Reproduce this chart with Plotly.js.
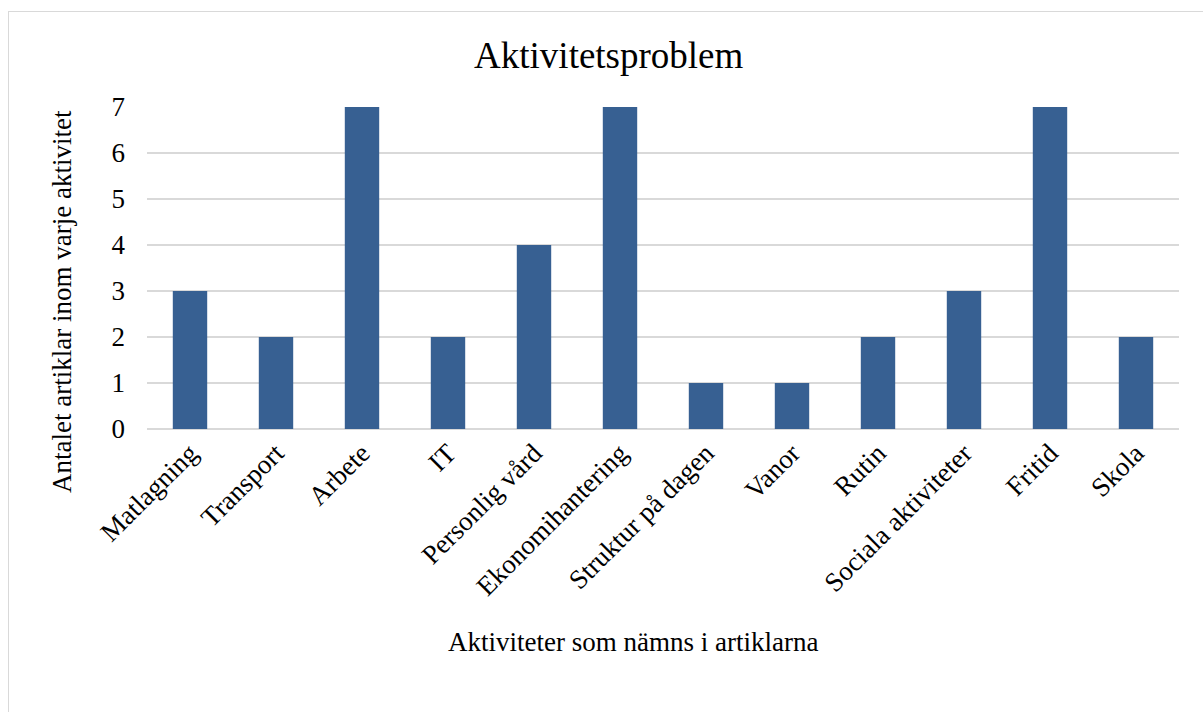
<!DOCTYPE html>
<html><head><meta charset="utf-8">
<script src="https://cdn.plot.ly/plotly-3.0.1.min.js"></script>
<style>
html,body{margin:0;padding:0;background:#fff;overflow:hidden;}
#frame{position:absolute;left:8px;top:11px;width:1300px;height:800px;border:1.5px solid #d9d9d9;box-sizing:border-box;}
#chart{position:absolute;left:0;top:0;width:1203px;height:712px;}
</style></head>
<body>
<div id="frame"></div>
<div id="chart"></div>
<script>
const categories = ["Matlagning","Transport","Arbete","IT","Personlig vård","Ekonomihantering","Struktur på dagen","Vanor","Rutin","Sociala aktiviteter","Fritid","Skola"];
const values = [3,2,7,2,4,7,1,1,2,3,7,2];
const yTicks = [0,1,2,3,4,5,6,7];
const font = "'Liberation Serif','Times New Roman',serif";

Plotly.newPlot('chart', [{
  type:'bar', x:categories, y:values,
  marker:{color:'#376092'},
  hoverinfo:'x+y'
}], {
  width:1203, height:712,
  paper_bgcolor:'rgba(0,0,0,0)', plot_bgcolor:'rgba(0,0,0,0)',
  margin:{l:147,r:24,t:107,b:283},
  bargap:0.6,
  showlegend:false,
  font:{family:font,color:'#000'},
  title:{text:'Aktivitetsproblem', font:{family:font,size:37,color:'#000'}, x:0.506, xref:'container', y:0.923, yref:'container', xanchor:'center', yanchor:'middle'},
  xaxis:{type:'category', tickangle:-45, tickfont:{family:font,size:27,color:'#000'}, showgrid:false, showline:false, ticks:'', automargin:false, ticklabelstandoff:2},
  yaxis:{range:[0,7], tickvals:yTicks, tickfont:{family:font,size:27,color:'#000'}, showgrid:true, gridcolor:'#d9d9d9', gridwidth:1.5, zeroline:true, zerolinecolor:'#d9d9d9', zerolinewidth:1.5, showline:false, ticks:'', automargin:false, ticklabelstandoff:21},
  annotations:[
    {text:'Antalet artiklar inom varje aktivitet', xref:'paper', yref:'paper', x:-0.0824, y:0.3975, textangle:-90, showarrow:false, xanchor:'center', yanchor:'middle', font:{family:font,size:27,color:'#000'}},
    {text:'Aktiviteter som nämns i artiklarna', xref:'paper', yref:'paper', x:0.471, y:-0.6615, showarrow:false, xanchor:'center', yanchor:'middle', font:{family:font,size:27,color:'#000'}}
  ]
}, {displayModeBar:false, staticPlot:true});
</script>
</body></html>
